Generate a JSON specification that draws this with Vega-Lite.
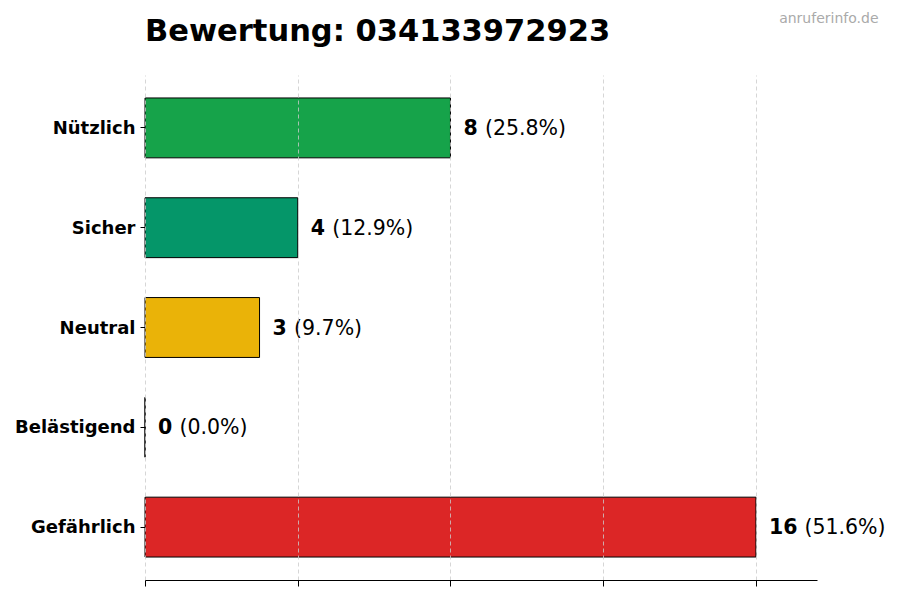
{
  "$schema": "https://vega.github.io/schema/vega-lite/v6.json",
  "width": 672,
  "height": 505,
  "autosize": "none",
  "padding": {"left": 145, "top": 75, "right": 83, "bottom": 20},
  "background": "white",
  "config": {
    "view": {"stroke": null},
    "font": "DejaVu Sans"
  },
  "title": {
    "text": "Bewertung: 034133972923",
    "anchor": "start",
    "frame": "group",
    "font": "DejaVu Sans",
    "fontSize": 30.5,
    "fontWeight": "bold",
    "color": "#000000",
    "baseline": "alphabetic",
    "offset": -60
  },
  "data": {
    "values": [
      {"kategorie": "Nützlich", "anzahl": 8, "prozent": "(25.8%)"},
      {"kategorie": "Sicher", "anzahl": 4, "prozent": "(12.9%)"},
      {"kategorie": "Neutral", "anzahl": 3, "prozent": "(9.7%)"},
      {"kategorie": "Belästigend", "anzahl": 0, "prozent": "(0.0%)"},
      {"kategorie": "Gefährlich", "anzahl": 16, "prozent": "(51.6%)"}
    ]
  },
  "encoding": {
    "y": {
      "field": "kategorie",
      "type": "nominal",
      "sort": ["Nützlich", "Sicher", "Neutral", "Belästigend", "Gefährlich"],
      "scale": {"paddingInner": 0.4, "paddingOuter": 0.23},
      "axis": {
        "title": "anruferinfo.de",
        "titleAngle": 0,
        "titleX": 733,
        "titleY": -53,
        "titleAlign": "right",
        "titleBaseline": "alphabetic",
        "titleFont": "DejaVu Sans",
        "titleFontSize": 14,
        "titleFontWeight": "normal",
        "titleColor": "#aaaaaa",
        "labelFont": "DejaVu Sans",
        "labelFontSize": 18,
        "labelFontWeight": "bold",
        "labelColor": "#000000",
        "labelPadding": 5,
        "labelOffset": 1,
        "domain": false,
        "ticks": true,
        "tickSize": 5,
        "tickColor": "#000000",
        "grid": false
      }
    },
    "x": {
      "field": "anzahl",
      "type": "quantitative",
      "scale": {"domain": [0, 17.6], "nice": false},
      "axis": {
        "title": null,
        "values": [0, 4, 8, 12, 16],
        "labels": false,
        "ticks": true,
        "tickSize": 6,
        "tickColor": "#000000",
        "domain": true,
        "domainColor": "#000000",
        "grid": true,
        "gridColor": "#cccccc",
        "gridDash": [4, 3],
        "gridWidth": 0.8,
        "zindex": 1
      }
    }
  },
  "layer": [
    {
      "mark": {"type": "bar", "stroke": "#000000", "strokeWidth": 1, "opacity": 1},
      "encoding": {
        "color": {
          "field": "kategorie",
          "type": "nominal",
          "legend": null,
          "scale": {
            "domain": ["Nützlich", "Sicher", "Neutral", "Belästigend", "Gefährlich"],
            "range": ["#16a34a", "#059669", "#eab308", "#f97316", "#dc2626"]
          }
        }
      }
    },
    {
      "mark": {"type": "text", "align": "left", "baseline": "middle", "dx": 13, "dy": 1, "fontSize": 20.5, "fontWeight": "bold", "font": "DejaVu Sans", "color": "#000000"},
      "encoding": {"text": {"field": "anzahl", "type": "quantitative"}}
    },
    {
      "transform": [{"filter": "datum.anzahl < 10"}],
      "mark": {"type": "text", "align": "left", "baseline": "middle", "dx": 34.5, "dy": 1, "fontSize": 20.5, "font": "DejaVu Sans", "color": "#000000"},
      "encoding": {"text": {"field": "prozent", "type": "nominal"}}
    },
    {
      "transform": [{"filter": "datum.anzahl >= 10"}],
      "mark": {"type": "text", "align": "left", "baseline": "middle", "dx": 48.5, "dy": 1, "fontSize": 20.5, "font": "DejaVu Sans", "color": "#000000"},
      "encoding": {"text": {"field": "prozent", "type": "nominal"}}
    }
  ]
}
